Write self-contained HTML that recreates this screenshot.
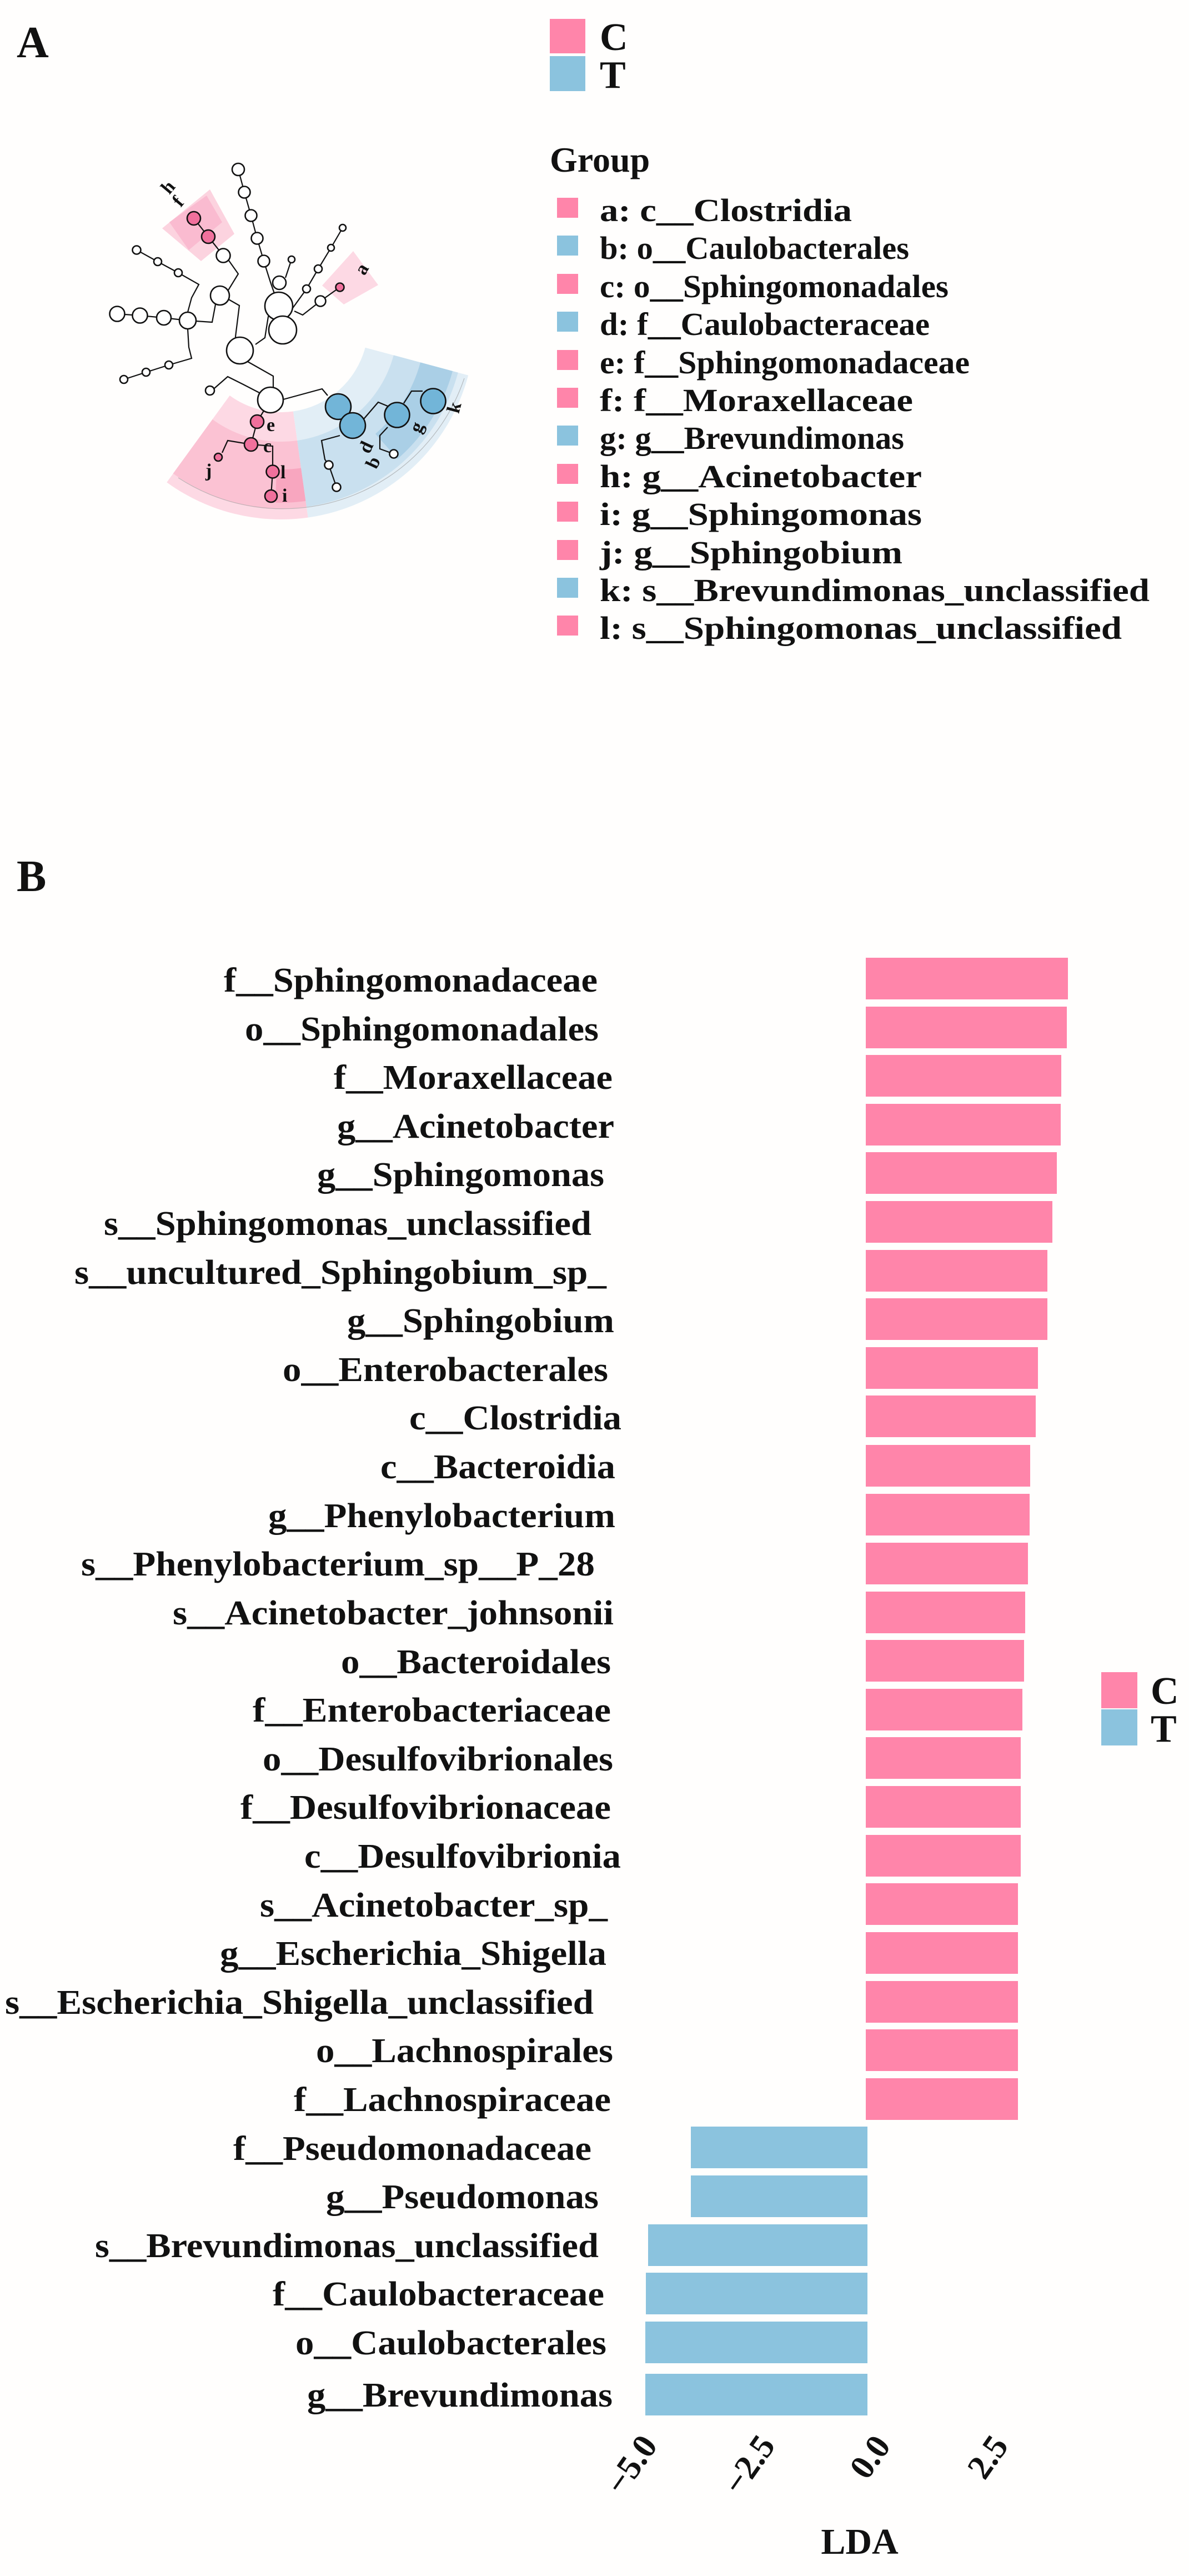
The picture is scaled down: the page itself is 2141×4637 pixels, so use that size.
<!DOCTYPE html>
<html><head><meta charset="utf-8"><style>
html,body{margin:0;padding:0;background:#fffefd;}
svg{display:block;}
text{font-family:"Liberation Serif","Times New Roman",serif;font-weight:bold;fill:#111;}
</style></head><body>
<svg width="2141" height="4637" viewBox="0 0 2141 4637" xmlns="http://www.w3.org/2000/svg">
<rect width="2141" height="4637" fill="#fffefd"/>

<!-- Panel A -->
<text x="30" y="103" font-size="80">A</text>

<g transform="translate(506,585)">
  <path d="M 48.7,346.6 A 350 350 0 0 1 -205.7,283.2 L -92.3,127.0 A 157 157 0 0 0 21.9,155.5 Z" fill="#fdd9e4"/>
  <path d="M 46.0,327.3 A 330.5 330.5 0 0 1 -194.3,267.4 L -123.4,169.9 A 210 210 0 0 0 29.2,208.0 Z" fill="#fbc2d3"/>
  <path d="M 44.5,316.9 A 320 320 0 0 1 -10,319.8 L -8,259.9 A 260 260 0 0 0 36.2,257.5 Z" fill="#f8a6bf"/>
  <path d="M 337.2,90.6 A 350 350 0 0 1 48.7,346.6 L 21.9,155.5 A 157 157 0 0 0 151.6,40.7 Z" fill="#e2eef6"/>
  <path d="M 318.8,85.6 A 330.5 330.5 0 0 1 46.0,327.3 L 29.2,208.0 A 210 210 0 0 0 202.8,54.4 Z" fill="#c9e0ef"/>
  <path d="M 309.0,83.0 A 320 320 0 0 1 210,241 L 170,196 A 260 260 0 0 0 251,67.4 Z" fill="#aacfe6"/>
  <path d="M 330,96 A 345 345 0 0 1 -185,275" fill="none" stroke="#9a9a9a" stroke-width="1.2" opacity="0.6"/>
</g>
<polygon points="292,411 378,341 422,421 362,470" fill="#fcd3df"/>
<polygon points="305,400 372,352 400,400 340,450" fill="#fabbd0"/>
<polygon points="580,514 636,452 681,513 619,548" fill="#fdd9e4"/>

<g fill="none" stroke="#111" stroke-width="2.2">
<polyline points="429,305 440,346 452,388 463,429 475,470 487,508 502,551"/>
<polyline points="525,467 514,500"/>
<polyline points="617,410 596,446 573,484 552,520 526,556"/>
<polyline points="612,517 577,542 545,567 530,560"/>
<polyline points="502,551 483,570 477,608 460,620"/>
<polyline points="410,538 431,550 424,606 432,631"/>
<polyline points="410,524 429,493 412,469 402,460 375,426 349,393"/>
<polyline points="211,565 252,568 295,572 338,577 382,580 388,548"/>
<polyline points="338,562 345,536 358,512 321,491 284,471 246,450"/>
<polyline points="338,592 340,625 345,645 304,657 263,670 223,683"/>
<polyline points="446,651 492,677 492,697"/>
<polyline points="467,707 438,692 410,678 386,699"/>
<polyline points="510,719 580,700 590,712"/>
<polyline points="612,784 579,793 585,827 592,837 606,877"/>
<polyline points="650,760 681,724 698,731"/>
<polyline points="698,769 684,784 684,808 709,817"/>
<polyline points="727,726 741,704 761,704"/>
<polyline points="487,720 463,759 452,800 491,803 491,849 488,893"/>
<polyline points="452,800 410,793 400,815"/>
<polyline points="609,732 635,766"/>
</g>
<g stroke="#111" stroke-width="2.6" fill="#fff">
<circle cx="429" cy="305" r="11"/><circle cx="440" cy="346" r="10.5"/><circle cx="452" cy="388" r="10.5"/>
<circle cx="463" cy="429" r="10.5"/><circle cx="475" cy="470" r="10.5"/><circle cx="503" cy="509" r="12"/>
<circle cx="502" cy="551" r="25"/><circle cx="509" cy="594" r="25"/><circle cx="432" cy="631" r="24"/>
<circle cx="487" cy="720" r="23"/><circle cx="396" cy="532" r="17"/><circle cx="402" cy="460" r="12.5"/>
<circle cx="338" cy="577" r="15"/><circle cx="295" cy="572" r="13"/><circle cx="252" cy="568" r="13.5"/>
<circle cx="211" cy="565" r="13.5"/><circle cx="321" cy="491" r="7"/><circle cx="284" cy="471" r="7"/>
<circle cx="246" cy="450" r="7.5"/><circle cx="304" cy="657" r="7"/><circle cx="263" cy="670" r="7"/>
<circle cx="223" cy="683" r="7"/><circle cx="378" cy="703" r="8"/><circle cx="525" cy="467" r="6"/>
<circle cx="552" cy="520" r="7"/><circle cx="577" cy="542" r="9.5"/><circle cx="573" cy="484" r="7"/>
<circle cx="596" cy="446" r="6"/><circle cx="617" cy="410" r="6"/>
<circle cx="592" cy="837" r="7.5"/><circle cx="606" cy="877" r="7.5"/><circle cx="709" cy="817" r="7.5"/>
</g>
<g stroke="#111" stroke-width="2.6" fill="#f0709c">
<circle cx="375" cy="426" r="12"/><circle cx="349" cy="393" r="12"/><circle cx="612" cy="517" r="7.5"/>
<circle cx="463" cy="759" r="12"/><circle cx="452" cy="800" r="12"/><circle cx="393" cy="823" r="7"/>
<circle cx="491" cy="849" r="11.5"/><circle cx="488" cy="893" r="11"/>
</g>
<g stroke="#111" stroke-width="2.6" fill="#72b5d8">
<circle cx="609" cy="732" r="23"/><circle cx="635" cy="766" r="23"/><circle cx="715" cy="747" r="22.5"/><circle cx="780" cy="722" r="22.5"/>
</g>
<g font-size="34">
<text x="294" y="346" transform="rotate(-50 305 337)">h</text>
<text x="316" y="372" transform="rotate(-50 323 363)">f</text>
<text x="642" y="494" transform="rotate(-60 652 483)">a</text>
<text x="480" y="776">e</text><text x="474" y="814">c</text>
<text x="370" y="858">j</text><text x="505" y="861">l</text><text x="508" y="903">i</text>
<text x="650" y="815" transform="rotate(-65 660 805)">d</text>
<text x="662" y="843" transform="rotate(-65 672 832)">b</text>
<text x="742" y="779" transform="rotate(-65 751 769)">g</text>
<text x="808" y="744" transform="rotate(-75 818 733)">k</text>
</g>

<rect x="990" y="34" width="64" height="62" fill="#ff85aa"/>
<rect x="990" y="101" width="64" height="63" fill="#8bc3de"/>
<text x="1080" y="90" font-size="70">C</text>
<text x="1080" y="158" font-size="70">T</text>
<text x="990" y="309" font-size="64">Group</text>
<g font-size="58">
<rect x="1003" y="356" width="38" height="36" fill="#ff85aa"/><text x="1080" y="398" textLength="454" lengthAdjust="spacingAndGlyphs">a: c__Clostridia</text>
<rect x="1003" y="424" width="38" height="36" fill="#8bc3de"/><text x="1080" y="466" textLength="557" lengthAdjust="spacingAndGlyphs">b: o__Caulobacterales</text>
<rect x="1003" y="493" width="38" height="36" fill="#ff85aa"/><text x="1080" y="535" textLength="628" lengthAdjust="spacingAndGlyphs">c: o__Sphingomonadales</text>
<rect x="1003" y="561" width="38" height="36" fill="#8bc3de"/><text x="1080" y="603" textLength="594" lengthAdjust="spacingAndGlyphs">d: f__Caulobacteraceae</text>
<rect x="1003" y="630" width="38" height="36" fill="#ff85aa"/><text x="1080" y="672" textLength="666" lengthAdjust="spacingAndGlyphs">e: f__Sphingomonadaceae</text>
<rect x="1003" y="698" width="38" height="36" fill="#ff85aa"/><text x="1080" y="740" textLength="564" lengthAdjust="spacingAndGlyphs">f: f__Moraxellaceae</text>
<rect x="1003" y="766" width="38" height="36" fill="#8bc3de"/><text x="1080" y="808" textLength="548" lengthAdjust="spacingAndGlyphs">g: g__Brevundimonas</text>
<rect x="1003" y="835" width="38" height="36" fill="#ff85aa"/><text x="1080" y="877" textLength="580" lengthAdjust="spacingAndGlyphs">h: g__Acinetobacter</text>
<rect x="1003" y="903" width="38" height="36" fill="#ff85aa"/><text x="1080" y="945" textLength="580" lengthAdjust="spacingAndGlyphs">i: g__Sphingomonas</text>
<rect x="1003" y="972" width="38" height="36" fill="#ff85aa"/><text x="1080" y="1014" textLength="545" lengthAdjust="spacingAndGlyphs">j: g__Sphingobium</text>
<rect x="1003" y="1040" width="38" height="36" fill="#8bc3de"/><text x="1080" y="1082" textLength="990" lengthAdjust="spacingAndGlyphs">k: s__Brevundimonas_unclassified</text>
<rect x="1003" y="1108" width="38" height="36" fill="#ff85aa"/><text x="1080" y="1150" textLength="940" lengthAdjust="spacingAndGlyphs">l: s__Sphingomonas_unclassified</text>
</g>

<!-- Panel B -->
<text x="30" y="1604" font-size="80">B</text>

<g fill="#ff85aa">
<rect x="1559" y="1724" width="364" height="75"/>
<rect x="1559" y="1812" width="362" height="75"/>
<rect x="1559" y="1899" width="352" height="75"/>
<rect x="1559" y="1987" width="351" height="75"/>
<rect x="1559" y="2074" width="344" height="75"/>
<rect x="1559" y="2162" width="336" height="75"/>
<rect x="1559" y="2250" width="327" height="75"/>
<rect x="1559" y="2337" width="327" height="75"/>
<rect x="1559" y="2425" width="310" height="75"/>
<rect x="1559" y="2512" width="306" height="75"/>
<rect x="1559" y="2601" width="296" height="75"/>
<rect x="1559" y="2689" width="295" height="75"/>
<rect x="1559" y="2777" width="292" height="75"/>
<rect x="1559" y="2865" width="287" height="75"/>
<rect x="1559" y="2952" width="285" height="75"/>
<rect x="1559" y="3040" width="282" height="75"/>
<rect x="1559" y="3127" width="279" height="75"/>
<rect x="1559" y="3215" width="279" height="75"/>
<rect x="1559" y="3303" width="279" height="75"/>
<rect x="1559" y="3390" width="274" height="75"/>
<rect x="1559" y="3478" width="274" height="75"/>
<rect x="1559" y="3566" width="274" height="75"/>
<rect x="1559" y="3653" width="274" height="75"/>
<rect x="1559" y="3741" width="274" height="75"/>
</g>
<g fill="#8bc3de">
<rect x="1244" y="3828" width="318" height="75"/>
<rect x="1244" y="3916" width="318" height="75"/>
<rect x="1167" y="4004" width="395" height="75"/>
<rect x="1163" y="4091" width="399" height="75"/>
<rect x="1162" y="4179" width="400" height="75"/>
<rect x="1162" y="4273" width="400" height="75"/>
</g>

<g font-size="62">
<text x="403" y="1785" textLength="673" lengthAdjust="spacingAndGlyphs">f__Sphingomonadaceae</text>
<text x="441" y="1873" textLength="637" lengthAdjust="spacingAndGlyphs">o__Sphingomonadales</text>
<text x="601" y="1960" textLength="502" lengthAdjust="spacingAndGlyphs">f__Moraxellaceae</text>
<text x="607" y="2048" textLength="499" lengthAdjust="spacingAndGlyphs">g__Acinetobacter</text>
<text x="571" y="2135" textLength="517" lengthAdjust="spacingAndGlyphs">g__Sphingomonas</text>
<text x="187" y="2223" textLength="878" lengthAdjust="spacingAndGlyphs">s__Sphingomonas_unclassified</text>
<text x="134" y="2311" textLength="958" lengthAdjust="spacingAndGlyphs">s__uncultured_Sphingobium_sp_</text>
<text x="625" y="2398" textLength="481" lengthAdjust="spacingAndGlyphs">g__Sphingobium</text>
<text x="509" y="2486" textLength="586" lengthAdjust="spacingAndGlyphs">o__Enterobacterales</text>
<text x="737" y="2573" textLength="382" lengthAdjust="spacingAndGlyphs">c__Clostridia</text>
<text x="685" y="2661" textLength="423" lengthAdjust="spacingAndGlyphs">c__Bacteroidia</text>
<text x="483" y="2749" textLength="625" lengthAdjust="spacingAndGlyphs">g__Phenylobacterium</text>
<text x="146" y="2836" textLength="925" lengthAdjust="spacingAndGlyphs">s__Phenylobacterium_sp__P_28</text>
<text x="311" y="2924" textLength="794" lengthAdjust="spacingAndGlyphs">s__Acinetobacter_johnsonii</text>
<text x="614" y="3012" textLength="486" lengthAdjust="spacingAndGlyphs">o__Bacteroidales</text>
<text x="455" y="3099" textLength="645" lengthAdjust="spacingAndGlyphs">f__Enterobacteriaceae</text>
<text x="473" y="3187" textLength="631" lengthAdjust="spacingAndGlyphs">o__Desulfovibrionales</text>
<text x="433" y="3274" textLength="667" lengthAdjust="spacingAndGlyphs">f__Desulfovibrionaceae</text>
<text x="548" y="3362" textLength="570" lengthAdjust="spacingAndGlyphs">c__Desulfovibrionia</text>
<text x="468" y="3450" textLength="626" lengthAdjust="spacingAndGlyphs">s__Acinetobacter_sp_</text>
<text x="396" y="3537" textLength="696" lengthAdjust="spacingAndGlyphs">g__Escherichia_Shigella</text>
<text x="9" y="3625" textLength="1060" lengthAdjust="spacingAndGlyphs">s__Escherichia_Shigella_unclassified</text>
<text x="569" y="3712" textLength="535" lengthAdjust="spacingAndGlyphs">o__Lachnospirales</text>
<text x="529" y="3800" textLength="571" lengthAdjust="spacingAndGlyphs">f__Lachnospiraceae</text>
<text x="420" y="3888" textLength="645" lengthAdjust="spacingAndGlyphs">f__Pseudomonadaceae</text>
<text x="587" y="3975" textLength="491" lengthAdjust="spacingAndGlyphs">g__Pseudomonas</text>
<text x="171" y="4063" textLength="907" lengthAdjust="spacingAndGlyphs">s__Brevundimonas_unclassified</text>
<text x="491" y="4150" textLength="597" lengthAdjust="spacingAndGlyphs">f__Caulobacteraceae</text>
<text x="532" y="4238" textLength="560" lengthAdjust="spacingAndGlyphs">o__Caulobacterales</text>
<text x="553" y="4332" textLength="550" lengthAdjust="spacingAndGlyphs">g__Brevundimonas</text>
</g>

<g font-size="62">
<text x="1137" y="4437" text-anchor="middle" dominant-baseline="central" transform="rotate(-55 1137 4437)">−5.0</text>
<text x="1349" y="4437" text-anchor="middle" dominant-baseline="central" transform="rotate(-55 1349 4437)">−2.5</text>
<text x="1567" y="4423" text-anchor="middle" dominant-baseline="central" transform="rotate(-55 1567 4423)">0.0</text>
<text x="1779" y="4423" text-anchor="middle" dominant-baseline="central" transform="rotate(-55 1779 4423)">2.5</text>
</g>
<text x="1548" y="4597" font-size="66" text-anchor="middle">LDA</text>

<rect x="1983" y="3010" width="65" height="65" fill="#ff85aa"/>
<rect x="1983" y="3077" width="65" height="65" fill="#8bc3de"/>
<text x="2072" y="3067" font-size="70">C</text>
<text x="2072" y="3135" font-size="70">T</text>
</svg>
</body></html>
